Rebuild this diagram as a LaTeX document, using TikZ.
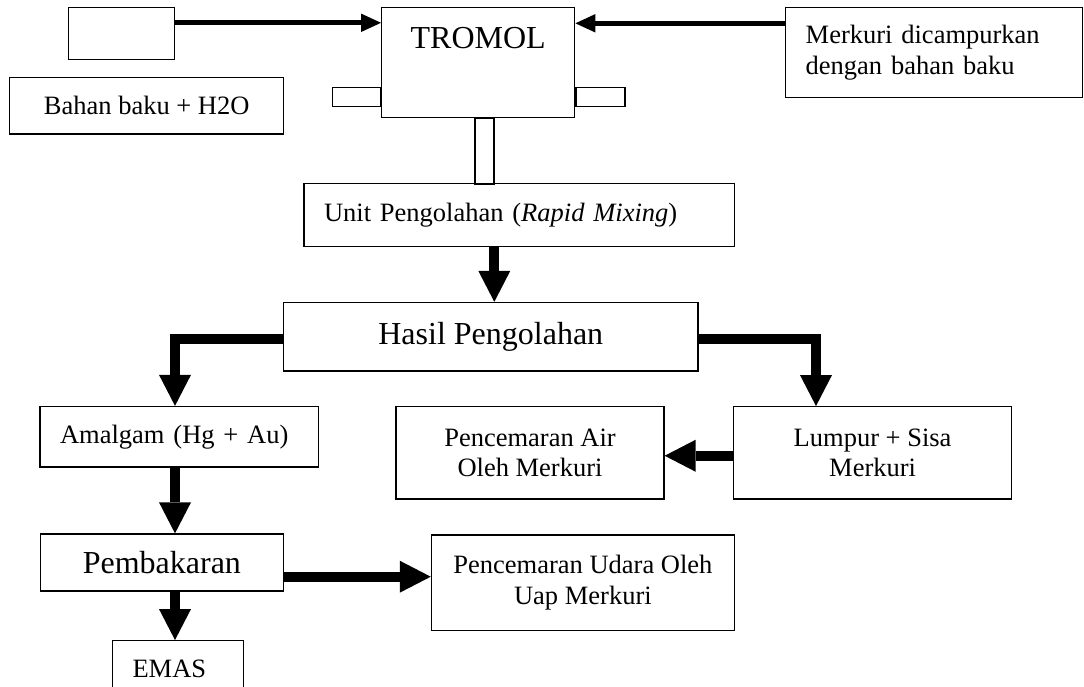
\documentclass[tikz,border=0pt]{standalone}
\usepackage{fontspec}
\setmainfont{Liberation Serif}
\usepackage{tikz}
\usetikzlibrary{arrows.meta, positioning, calc}

\begin{document}
\begin{tikzpicture}[
  x=1pt, y=-1pt,
  box/.style={draw, rectangle, line width=1.3pt, inner sep=0pt,
    font=\fontsize{26.5}{30.5}\selectfont, align=center},
  bigbox/.style={box, font=\fontsize{32}{36}\selectfont},
  lbox/.style={box, align=left, text width=#1, inner xsep=20pt},
  stub/.style={draw, rectangle, line width=1.3pt, inner sep=0pt},
  thinarrow/.style={line width=5.3pt,
    -{Triangle[length=20pt, width=18.5pt, line width=0pt]}},
  bigarrow/.style={line width=10pt,
    -{Triangle[length=31pt, width=32pt, line width=0pt]}}
]
  \clip (0,0) rectangle (1084,686);

  % Inputs
  \node[box, minimum width=106pt, minimum height=52pt] (blank) at (121.6,33.3) {};
  \node[box, minimum width=274pt, minimum height=56.3pt] (bahan) at (146.7,105.8)
    {Bahan baku + H2O};
  \node[lbox=257pt, minimum width=297pt, minimum height=90.4pt] (merkuri)
    at (934.2,52.5) {Merkuri dicampurkan\\dengan bahan baku};

  % Drum
  \node[bigbox, minimum width=193.1pt, minimum height=110pt,
    label={[font=\fontsize{32}{36}\selectfont, anchor=base, yshift=-41.7pt]north:TROMOL}]
    (tromol) at (478.2,62.3) {};
  \node[stub, minimum width=47.6pt, minimum height=19.4pt, anchor=east]
    (stubl) at ([yshift=-34.7pt]tromol.west) {};
  \node[stub, minimum width=49pt, minimum height=19.4pt, anchor=west]
    (stubr) at ([yshift=-34.7pt]tromol.east) {};
  \node[stub, minimum width=19pt, minimum height=66pt, anchor=north]
    (stubb) at ([xshift=6.3pt]tromol.south) {};

  % Processing
  \node[lbox=390.4pt, minimum width=430.4pt, minimum height=63pt] (unit)
    at (519.2,214.8) {Unit Pengolahan (\textit{Rapid Mixing})};
  \node[bigbox, minimum width=414.4pt, minimum height=68.5pt] (hasil)
    at (490.8,336.75) {Hasil Pengolahan};

  % Results
  \node[lbox=238.3pt, minimum width=278.3pt, minimum height=60.5pt] (amalgam)
    at (179.25,436.75) {Amalgam (Hg + Au)};
  \node[box, minimum width=268pt, minimum height=92.3pt] (air)
    at (530,452.85) {Pencemaran Air\\Oleh Merkuri};
  \node[box, minimum width=278.2pt, minimum height=92.3pt] (lumpur)
    at (872.6,452.85) {Lumpur + Sisa\\Merkuri};
  \node[bigbox, minimum width=243.4pt, minimum height=57pt] (pembakaran)
    at (161.9,562.5) {Pembakaran};
  \node[box, minimum width=303pt, minimum height=95.7pt] (udara)
    at (582.9,582.85) {Pencemaran Udara Oleh\\Uap Merkuri};
  \node[lbox=91.3pt, minimum width=131.3pt, minimum height=55.3pt] (emas)
    at (178.15,668.35) {EMAS};

  % Arrow columns and rows
  \coordinate (lcol) at (175,0);
  \coordinate (mcol) at (494.3,0);
  \coordinate (rcol) at (816,0);
  \coordinate (inA) at ([yshift=10.5pt]blank.east);
  \coordinate (inB) at ([yshift=29.2pt]merkuri.west);
  \coordinate (outL) at ([yshift=-2.3pt]hasil.west);
  \coordinate (outR) at ([yshift=-2.3pt]hasil.east);
  \coordinate (sisa) at ([yshift=-2.9pt]lumpur.west);
  \coordinate (uap) at ([yshift=-14.2pt]pembakaran.east);

  % Feeding the drum
  \draw[thinarrow] (inA) -- (inA -| tromol.west);
  \draw[thinarrow] (inB) -- (inB -| tromol.east);

  % Flow
  \draw[bigarrow] (unit.south -| mcol) -- (hasil.north -| mcol);
  \draw[bigarrow] (outL) -| (amalgam.north -| lcol);
  \draw[bigarrow] (outR) -| (lumpur.north -| rcol);
  \draw[bigarrow] (sisa) -- (sisa -| air.east);
  \draw[bigarrow] (amalgam.south -| lcol) -- (pembakaran.north -| lcol);
  \draw[bigarrow] (uap) -- (uap -| udara.west);
  \draw[bigarrow] (pembakaran.south -| lcol) -- (emas.north -| lcol);
\end{tikzpicture}
\end{document}
